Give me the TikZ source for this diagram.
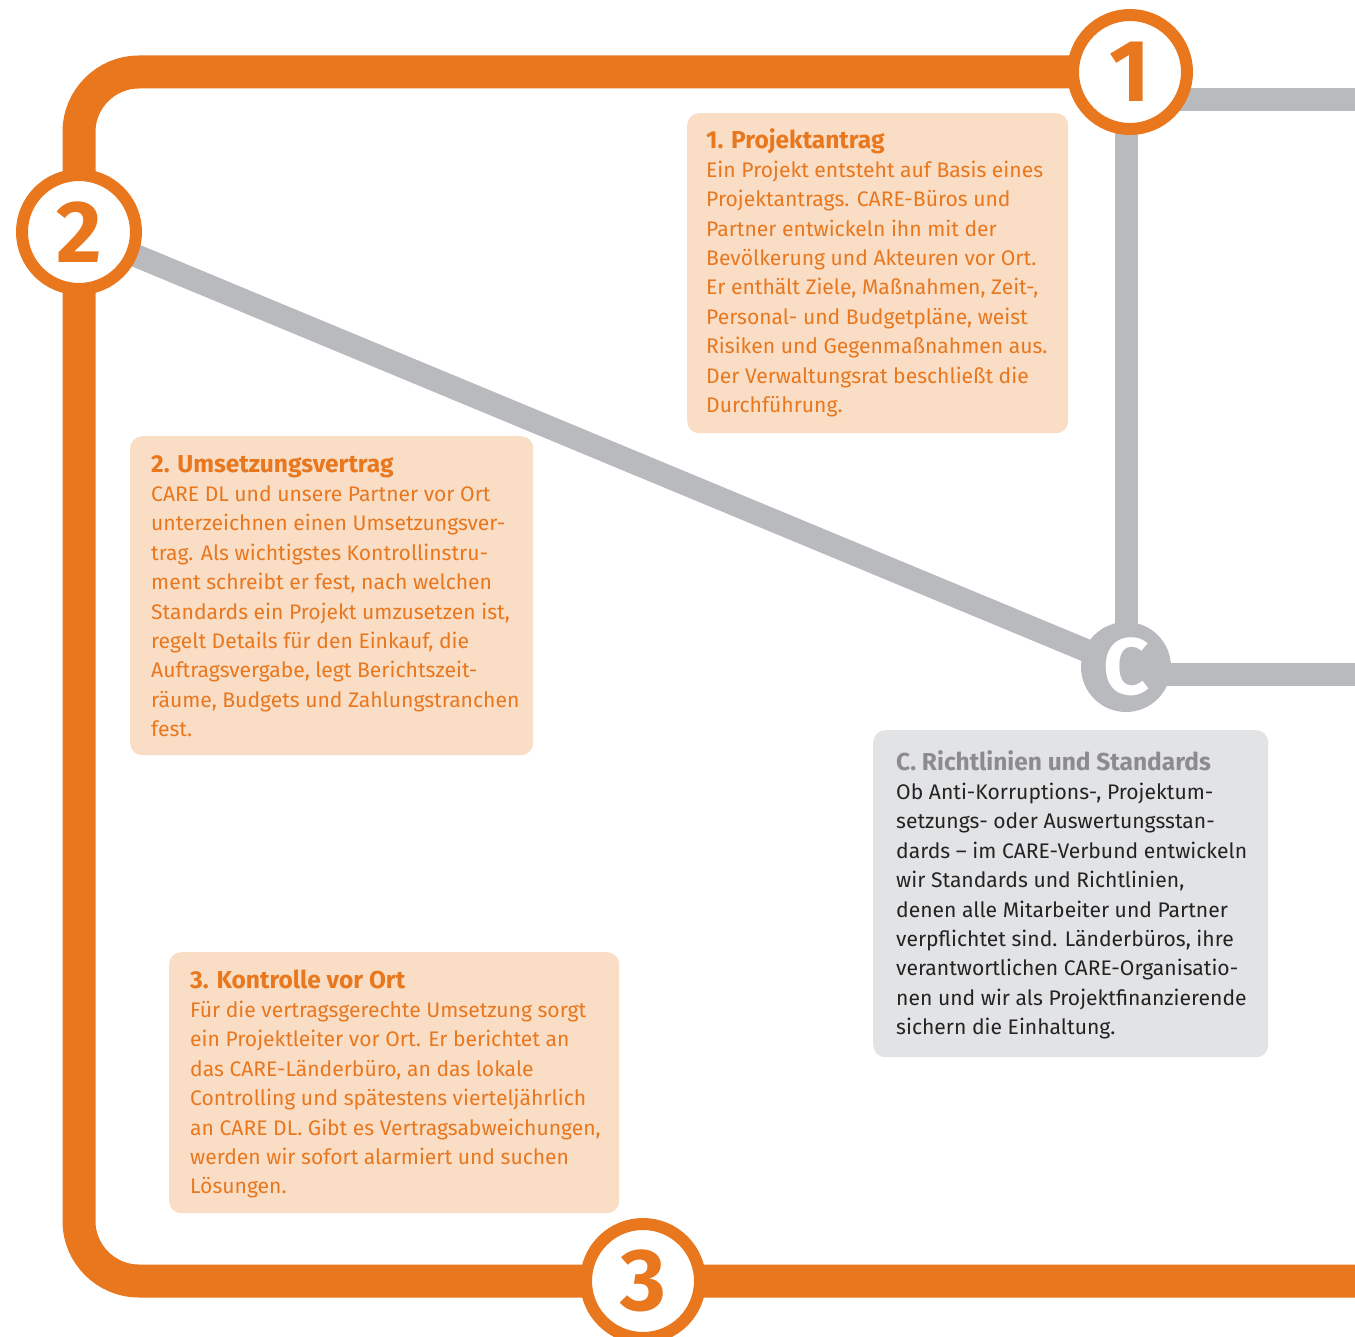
\documentclass[tikz,border=0pt]{standalone}
\usepackage{fontspec}
\setmainfont{Fira Sans}
\usepackage{xcolor}
\usepackage{tikz}
\usetikzlibrary{positioning}
\definecolor{colorO}{RGB}{232,119,30}
\definecolor{colorP}{RGB}{249,221,197}
\definecolor{colorL}{RGB}{185,186,190}
\definecolor{colorK}{RGB}{226,227,229}
\definecolor{colorT}{RGB}{140,140,142}
\definecolor{colorD}{RGB}{35,35,35}
\newcommand{\bodyfont}{\fontsize{21.1}{29.4}\selectfont}
\newcommand{\headfont}{\fontsize{24.5}{29.4}\selectfont\bfseries}
\tikzstyle{track}=[draw=colorO, line width=33pt, rounded corners=60pt]
\tikzstyle{rail}=[draw=colorL, line width=23pt]
\tikzstyle{stop}=[circle, draw=colorO, line width=12pt, fill=white, minimum size=114pt, inner sep=0pt, text=colorO, font={\fontsize{88}{88}\selectfont\bfseries}]
\tikzstyle{hub}=[circle, fill=colorL, minimum size=90pt, inner sep=0pt, text=white, font={\fontsize{80}{80}\selectfont\bfseries}]
\tikzstyle{card}=[rectangle, rounded corners=12pt, fill=colorP, anchor=north west, inner sep=0pt]
% anchored at the baseline of the last line
\tikzstyle{txt}=[anchor=base west, align=left, inner sep=0pt, text=colorO, font=\bodyfont]

\begin{document}
\begin{tikzpicture}[x=1pt, y=-1pt]
\useasboundingbox (0,0) rectangle (1355,1337);

\coordinate (end_o) at (1355,1281);
\coordinate (end_g1) at (1355,100);
\coordinate (end_gc) at (1355,674);
\coordinate (stop_1_c) at (1130,72);
\coordinate (stop_2_c) at (79,232);
\coordinate (stop_3_c) at (643,1281);
\coordinate (hub_c_c) at (1126,667);

%%% Grey lines
\draw[rail] (stop_2_c) -- (hub_c_c);
\draw[rail] (hub_c_c) -- (hub_c_c |- stop_1_c);
\draw[rail] (stop_1_c |- end_g1) -- (end_g1);
\draw[rail] (hub_c_c |- end_gc) -- (end_gc);

%%% Orange line
\draw[track] (stop_1_c) -| (stop_2_c) |- (stop_3_c) -- (end_o);

%%% Stops
\node[stop] (stop_1) at (stop_1_c) {1};
\node[stop] (stop_2) at (stop_2_c) {2};
\node[stop] (stop_3) at (stop_3_c) {3};
\node[hub] (hub_c) at (hub_c_c) {C};

%%% Cards
\node[card, minimum width=381pt, minimum height=320pt] (card_1) at (687,113) {};
\node[txt] (txt_1) at (706,412.6) {{\headfont 1. Projektantrag}\\
Ein Projekt entsteht auf Basis eines\\
Projektantrags. CARE-Büros und\\
Partner entwickeln ihn mit der\\
Bevölkerung und Akteuren vor Ort.\\
Er enthält Ziele, Maßnahmen, Zeit-,\\
Personal- und Budgetpläne, weist\\
Risiken und Gegenmaßnahmen aus.\\
Der Verwaltungsrat beschließt die\\
Durchführung.};

\node[card, minimum width=403pt, minimum height=319pt] (card_2) at (130,436) {};
\node[txt] (txt_2) at (151,736.6) {{\headfont 2. Umsetzungsvertrag}\\
CARE DL und unsere Partner vor Ort\\
unterzeichnen einen Umsetzungsver-\\
trag. Als wichtigstes Kontrollinstru-\\
ment schreibt er fest, nach welchen\\
Standards ein Projekt umzusetzen ist,\\
regelt Details für den Einkauf, die\\
Auftragsvergabe, legt Berichtszeit-\\
räume, Budgets und Zahlungstranchen\\
fest.};

\node[card, minimum width=450pt, minimum height=261pt] (card_3) at (169,952) {};
\node[txt] (txt_3) at (190,1193.8) {{\headfont 3. Kontrolle vor Ort}\\
Für die vertragsgerechte Umsetzung sorgt\\
ein Projektleiter vor Ort. Er berichtet an\\
das CARE-Länderbüro, an das lokale\\
Controlling und spätestens vierteljährlich\\
an CARE DL. Gibt es Vertragsabweichungen,\\
werden wir sofort alarmiert und suchen\\
Lösungen.};

\node[card, fill=colorK, minimum width=395pt, minimum height=327pt] (card_c) at (873,730) {};
\node[txt, text=colorD] (txt_c) at (896,1034.6) {{\headfont\color{colorT}C. Richtlinien und Standards}\\
Ob Anti-Korruptions-, Projektum-\\
setzungs- oder Auswertungsstan-\\
dards – im CARE-Verbund entwickeln\\
wir Standards und Richtlinien,\\
denen alle Mitarbeiter und Partner\\
verpflichtet sind. Länderbüros, ihre\\
verantwortlichen CARE-Organisatio-\\
nen und wir als Projektfinanzierende\\
sichern die Einhaltung.};

\end{tikzpicture}
\end{document}
